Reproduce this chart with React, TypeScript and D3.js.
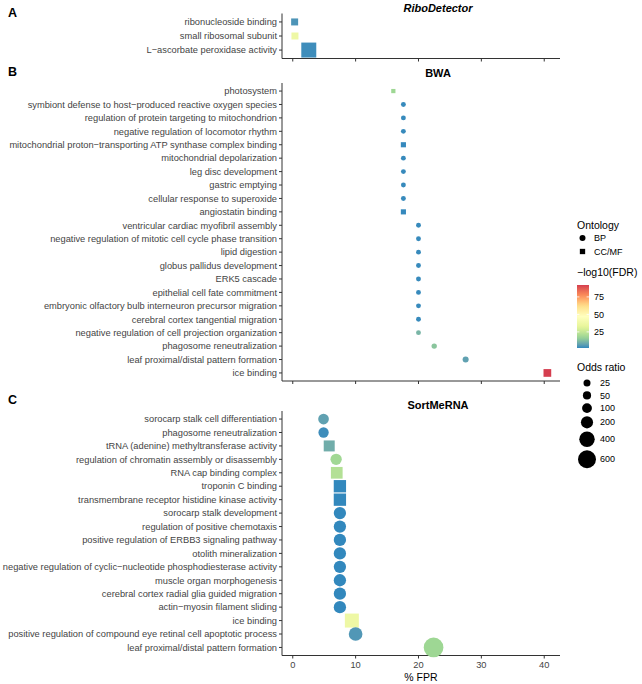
import React from 'react';
import * as d3 from 'd3';

// ---------- DATA ----------
const riboTerms = ['ribonucleoside binding', 'small ribosomal subunit', 'L\u2212ascorbate peroxidase activity'];
const riboFPR = [0.3, 0.35, 2.55];
const riboLogFDR = [4.5, 37, 3];
const riboOdds = [43, 43, 509];
const riboOntology = ['CC/MF', 'CC/MF', 'CC/MF'];

const bwaTerms = [
  'photosystem',
  'symbiont defense to host\u2212produced reactive oxygen species',
  'regulation of protein targeting to mitochondrion',
  'negative regulation of locomotor rhythm',
  'mitochondrial proton\u2212transporting ATP synthase complex binding',
  'mitochondrial depolarization',
  'leg disc development',
  'gastric emptying',
  'cellular response to superoxide',
  'angiostatin binding',
  'ventricular cardiac myofibril assembly',
  'negative regulation of mitotic cell cycle phase transition',
  'lipid digestion',
  'globus pallidus development',
  'ERK5 cascade',
  'epithelial cell fate commitment',
  'embryonic olfactory bulb interneuron precursor migration',
  'cerebral cortex tangential migration',
  'negative regulation of cell projection organization',
  'phagosome reneutralization',
  'leaf proximal/distal pattern formation',
  'ice binding',
];
const bwaFPR = [16.0, 17.6, 17.6, 17.6, 17.6, 17.6, 17.6, 17.6, 17.6, 17.6, 20, 20, 20, 20, 20, 20, 20, 20, 20, 22.5, 27.5, 40.5];
const bwaLogFDR = [18, 2.4, 2.4, 2.4, 2.2, 2.4, 2.4, 2.4, 2.4, 2.2, 2.4, 2.4, 2.4, 2.4, 2.4, 2.4, 2.4, 2.4, 11, 14, 7, 92];
const bwaOdds = [1, 1.5, 1.5, 1.5, 8, 1.5, 1.5, 1.5, 1.5, 8, 1.5, 1.5, 1.5, 1.5, 1.5, 1.5, 1.5, 1.5, 1.5, 4.5, 11, 64];
const bwaOntology = ['CC/MF', 'BP', 'BP', 'BP', 'CC/MF', 'BP', 'BP', 'BP', 'BP', 'CC/MF', 'BP', 'BP', 'BP', 'BP', 'BP', 'BP', 'BP', 'BP', 'BP', 'BP', 'BP', 'CC/MF'];

const sortTerms = [
  'sorocarp stalk cell differentiation',
  'phagosome reneutralization',
  'tRNA (adenine) methyltransferase activity',
  'regulation of chromatin assembly or disassembly',
  'RNA cap binding complex',
  'troponin C binding',
  'transmembrane receptor histidine kinase activity',
  'sorocarp stalk development',
  'regulation of positive chemotaxis',
  'positive regulation of ERBB3 signaling pathway',
  'otolith mineralization',
  'negative regulation of cyclic\u2212nucleotide phosphodiesterase activity',
  'muscle organ morphogenesis',
  'cerebral cortex radial glia guided migration',
  'actin\u2212myosin filament sliding',
  'ice binding',
  'positive regulation of compound eye retinal cell apoptotic process',
  'leaf proximal/distal pattern formation',
];
const sortFPR = [4.9, 4.9, 5.8, 6.9, 7.0, 7.5, 7.5, 7.5, 7.5, 7.5, 7.5, 7.5, 7.5, 7.5, 7.5, 9.4, 10.0, 22.4];
const sortLogFDR = [7, 3, 9.5, 18.5, 22, 2, 2, 2, 2, 2, 2, 2, 2, 2, 2, 37, 5, 18];
const sortOdds = [133, 117, 212, 159, 256, 297, 297, 207, 207, 207, 207, 207, 207, 207, 207, 424, 285, 758];
const sortOntology = ['BP', 'BP', 'CC/MF', 'BP', 'CC/MF', 'CC/MF', 'CC/MF', 'BP', 'BP', 'BP', 'BP', 'BP', 'BP', 'BP', 'BP', 'CC/MF', 'BP', 'BP'];

const xTicks = [0, 10, 20, 30, 40];
const fdrLegendTicks = [25, 50, 75];
const oddsLegendBreaks = [25, 50, 100, 200, 400, 600];
const ontologyLevels = ['BP', 'CC/MF'];
const spectral7 = ['#3288bd', '#99d594', '#e6f598', '#ffffbf', '#fee08b', '#fc8d59', '#d53e4f'];

// ---------- SCALES ----------
const allFPR = [...riboFPR, ...bwaFPR, ...sortFPR];
const allFDR = [...riboLogFDR, ...bwaLogFDR, ...sortLogFDR];
const allOdds = [...riboOdds, ...bwaOdds, ...sortOdds];

const [fprMin, fprMax] = d3.extent(allFPR) as [number, number];
const fprPad = (fprMax - fprMin) * 0.05;
const PX0 = 282;
const PX1 = 560;
const xScale = d3.scaleLinear().domain([fprMin - fprPad, fprMax + fprPad]).range([PX0, PX1]);

const [fdrMin, fdrMax] = d3.extent(allFDR) as [number, number];
const colorScale = d3
  .scaleLinear<string>()
  .domain(spectral7.map((_, i) => fdrMin + (i * (fdrMax - fdrMin)) / (spectral7.length - 1)))
  .range(spectral7)
  .interpolate(d3.interpolateLab);

const sizeScale = d3.scaleSqrt().domain([0, d3.max(allOdds) as number]).range([4.2, 19.7]);

const FONT = "'Liberation Sans', Arial, Helvetica, sans-serif";
const AXIS_TEXT = '#444444';
const AXIS_LINE = '#333333';

type PanelDef = {
  letter: string;
  title: string;
  italic: boolean;
  terms: string[];
  fpr: number[];
  fdr: number[];
  odds: number[];
  onto: string[];
  top: number;
  bottom: number;
  titleY: number;
  letterY: number;
};

const panels: PanelDef[] = [
  { letter: 'A', title: 'RiboDetector', italic: true, terms: riboTerms, fpr: riboFPR, fdr: riboLogFDR, odds: riboOdds, onto: riboOntology, top: 13.5, bottom: 58.5, titleY: 12, letterY: 17 },
  { letter: 'B', title: 'BWA', italic: false, terms: bwaTerms, fpr: bwaFPR, fdr: bwaLogFDR, odds: bwaOdds, onto: bwaOntology, top: 83, bottom: 381, titleY: 77, letterY: 76 },
  { letter: 'C', title: 'SortMeRNA', italic: false, terms: sortTerms, fpr: sortFPR, fdr: sortLogFDR, odds: sortOdds, onto: sortOntology, top: 411, bottom: 655.5, titleY: 409, letterY: 404 },
];

function Marker({ x, y, d, shape, fill }: { x: number; y: number; d: number; shape: string; fill: string }) {
  if (shape === 'BP') return <circle cx={x} cy={y} r={d / 2} fill={fill} />;
  const s = d * 0.886;
  return <rect x={x - s / 2} y={y - s / 2} width={s} height={s} fill={fill} />;
}

function Panel({ p, showXLabels }: { p: PanelDef; showXLabels: boolean }) {
  const yScale = d3.scalePoint<string>().domain(p.terms).range([p.top, p.bottom]).padding(0.6);
  return (
    <g>
      <text x={8} y={p.letterY} fontFamily={FONT} fontWeight="bold" fontSize={12.5} fill="#000">
        {p.letter}
      </text>
      <text
        x={438}
        y={p.titleY}
        fontFamily={FONT}
        fontWeight="bold"
        fontStyle={p.italic ? 'italic' : 'normal'}
        fontSize={11}
        textAnchor="middle"
        fill="#000"
      >
        {p.title}
      </text>
      {/* y axis */}
      <line x1={PX0} x2={PX0} y1={p.top} y2={p.bottom} stroke={AXIS_LINE} strokeWidth={1} />
      {p.terms.map((t) => (
        <g key={t}>
          <line x1={PX0 - 3} x2={PX0} y1={yScale(t)} y2={yScale(t)} stroke={AXIS_LINE} strokeWidth={1} />
          <text
            x={PX0 - 5}
            y={yScale(t)}
            dy="0.35em"
            textAnchor="end"
            fontFamily={FONT}
            fontSize={9.3}
            fill={AXIS_TEXT}
          >
            {t}
          </text>
        </g>
      ))}
      {/* x axis */}
      <line x1={PX0} x2={PX1} y1={p.bottom} y2={p.bottom} stroke={AXIS_LINE} strokeWidth={1} />
      {xTicks.map((v) => (
        <g key={v}>
          <line x1={xScale(v)} x2={xScale(v)} y1={p.bottom} y2={p.bottom + 3} stroke={AXIS_LINE} strokeWidth={1} />
          {showXLabels && (
            <text x={xScale(v)} y={p.bottom + 12.5} textAnchor="middle" fontFamily={FONT} fontSize={9.3} fill={AXIS_TEXT}>
              {v}
            </text>
          )}
        </g>
      ))}
      {/* points */}
      {p.terms.map((t, i) => (
        <Marker
          key={'m' + t}
          x={xScale(p.fpr[i])}
          y={yScale(t) as number}
          d={sizeScale(p.odds[i])}
          shape={p.onto[i]}
          fill={colorScale(p.fdr[i])}
        />
      ))}
    </g>
  );
}

function Legend() {
  const lx = 577;
  const barTop = 285;
  const barBottom = 348;
  const barW = 12;
  const barScale = d3.scaleLinear().domain([fdrMin, fdrMax]).range([barBottom, barTop]);
  const stops = d3.range(0, 1.0001, 0.05);
  const keyH = oddsLegendBreaks.map((b) => Math.max(12.4, sizeScale(b) + 3.2));
  let cy = 383 - keyH[0] / 2;
  const centers = keyH.map((h) => {
    const c = cy + h / 2;
    cy += h;
    return c;
  });
  return (
    <g fontFamily={FONT}>
      <defs>
        <linearGradient id="fdrGrad" x1="0" y1="1" x2="0" y2="0">
          {stops.map((s) => (
            <stop key={s} offset={s} stopColor={colorScale(fdrMin + s * (fdrMax - fdrMin))} />
          ))}
        </linearGradient>
      </defs>
      <text x={lx} y={229} fontSize={10.5} fill="#000">Ontology</text>
      {ontologyLevels.map((o, i) => (
        <g key={o}>
          <Marker x={582.5} y={238 + i * 13.5} d={6} shape={o} fill="#000" />
          <text x={594} y={238 + i * 13.5} dy="0.35em" fontSize={9} fill="#000">
            {o}
          </text>
        </g>
      ))}
      <text x={lx} y={276} fontSize={10.5} fill="#000">{'\u2212log10(FDR)'}</text>
      <rect x={lx} y={barTop} width={barW} height={barBottom - barTop} fill="url(#fdrGrad)" />
      {fdrLegendTicks.map((t) => (
        <g key={t}>
          <line x1={lx} x2={lx + 2.4} y1={barScale(t)} y2={barScale(t)} stroke="#fff" strokeWidth={0.8} />
          <line x1={lx + barW - 2.4} x2={lx + barW} y1={barScale(t)} y2={barScale(t)} stroke="#fff" strokeWidth={0.8} />
          <text x={594} y={barScale(t)} dy="0.35em" fontSize={9} fill="#000">
            {t}
          </text>
        </g>
      ))}
      <text x={lx} y={371} fontSize={10.5} fill="#000">Odds ratio</text>
      {oddsLegendBreaks.map((b, i) => (
        <g key={b}>
          <circle cx={587} cy={centers[i]} r={sizeScale(b) / 2} fill="#000" />
          <text x={600} y={centers[i]} dy="0.35em" fontSize={9} fill="#000">
            {b}
          </text>
        </g>
      ))}
    </g>
  );
}

export default function App() {
  return (
    <svg
      width={642}
      height={684}
      viewBox="0 0 642 684"
      style={{ position: 'absolute', left: 0, top: 0, background: '#fff' }}
    >
      <rect width={642} height={684} fill="#fff" />
      {panels.map((p, i) => (
        <Panel key={p.letter} p={p} showXLabels={i === panels.length - 1} />
      ))}
      <text x={(PX0 + PX1) / 2} y={681} textAnchor="middle" fontFamily={FONT} fontSize={10.5} fill="#000">
        % FPR
      </text>
      <Legend />
    </svg>
  );
}
